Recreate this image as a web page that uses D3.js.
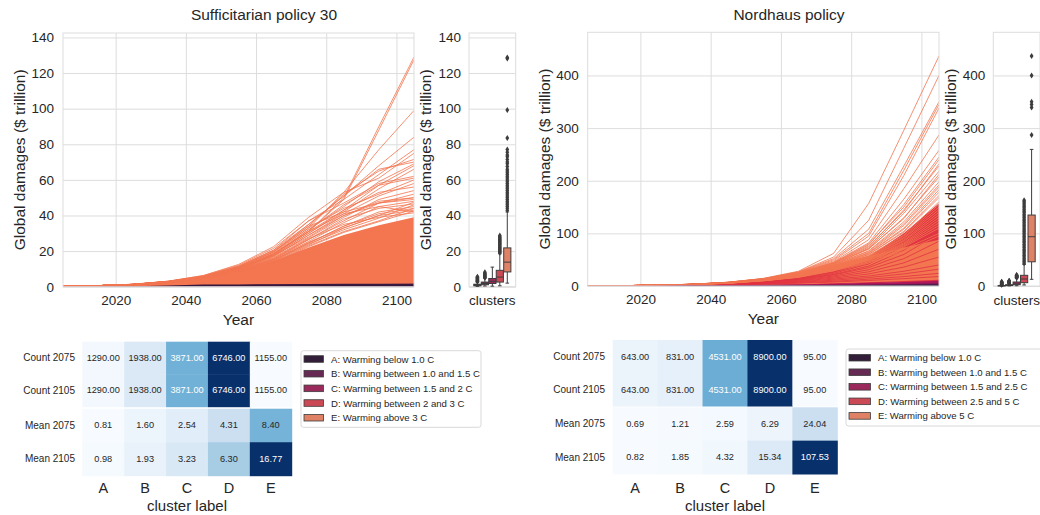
<!DOCTYPE html>
<html>
<head>
<meta charset="utf-8">
<script src="https://cdn.jsdelivr.net/npm/d3@7"></script>
<style>
  body { margin: 0; background: #fff; }
  svg { font-family: "Liberation Sans", Arial, sans-serif; }
  text { fill: #262626; }
</style>
</head>
<body>
<svg id="chart" width="1040" height="515"></svg>
<script>
// ---- data ----
const years = [2005, 2015, 2025, 2035, 2045, 2055, 2065, 2075, 2085, 2095, 2105];
const clusterKeys = ["A", "B", "C", "D", "E"];
const rocket = ["#35193e", "#701f57", "#ad1759", "#e13342", "#f37651"];

// Sufficitarian policy 30: dense bands (low/high) per cluster and a few single runs
const suffBandLow = {
  A: [0, 0, 0, 0, 0, 0, 0, 0, 0, 0, 0],
  B: [0, 0, 0, 0, 0, 0, 0, 0, 0, 0, 0],
  C: [0, 0, 0, 0, 0, 0, 0, 0, 0, 0, 0],
  D: [0, 0, 0, 0, 0, 0, 0, 0, 0, 0, 0],
  E: [0, 0, 0, 0.2, 0.5, 1.0, 1.2, 1.3, 1.4, 1.5, 1.6]
};
const suffBandHigh = {
  A: [0.1, 0.15, 0.3, 0.7, 1.3, 1.3, 1.4, 1.5, 1.6, 1.6, 1.7],
  B: [0.15, 0.3, 0.5, 0.9, 1.5, 2, 2.5, 3, 3.5, 4, 4.5],
  C: [0.2, 0.4, 0.7, 1.2, 2, 3, 4.5, 6, 7.5, 9, 11],
  D: [0.25, 0.5, 0.9, 1.8, 3.5, 6, 9.5, 13, 17, 21, 26],
  E: [0.3, 0.6, 1.2, 2.4, 4.5, 8.5, 14.5, 22, 29, 34.5, 39]
};
const suffLinesE = [
  [0.3, 0.6, 1.3, 2.9, 5.6, 10.5, 18.5, 31, 50, 90, 129],
  [0.3, 0.6, 1.3, 2.9, 5.6, 10.5, 18.5, 31, 49, 88, 127.5],
  [0.3, 0.6, 1.3, 3.0, 5.9, 11, 19.5, 33, 53, 77, 99],
  [0.3, 0.6, 1.3, 3.0, 5.9, 11.5, 20.5, 35, 51, 68, 84],
  [0.3, 0.6, 1.4, 3.1, 6.2, 12, 21.5, 37, 49, 63, 77],
  [0.3, 0.6, 1.4, 3.1, 6.3, 12.5, 22.5, 39, 53, 61, 75],
  [0.3, 0.6, 1.3, 2.9, 5.7, 11, 19.5, 34, 52, 65, 71.5],
  [0.3, 0.6, 1.3, 2.9, 5.7, 11, 19.5, 35, 51, 66, 70],
  [0.3, 0.6, 1.3, 2.8, 5.5, 10.5, 18.5, 32, 45, 59, 69],
  [0.3, 0.6, 1.3, 2.8, 5.4, 10.3, 18, 31, 43, 57, 68],
  [0.3, 0.6, 1.3, 2.8, 5.3, 10, 17.5, 30, 42, 55, 66],
  [0.3, 0.6, 1.3, 2.9, 5.7, 11.5, 20.5, 37, 47, 58, 62],
  [0.3, 0.6, 1.2, 2.7, 5.1, 9.7, 17, 29, 41, 51, 58],
  [0.3, 0.6, 1.2, 2.7, 5.1, 9.8, 17.5, 30, 43, 53, 56],
  [0.3, 0.6, 1.2, 2.6, 5.0, 9.5, 16.5, 27.5, 39, 49, 54],
  [0.3, 0.6, 1.2, 2.6, 4.9, 9.3, 16, 26.5, 37, 47, 52],
  [0.3, 0.6, 1.2, 2.7, 5.2, 10, 17.5, 28, 40, 48, 50],
  [0.3, 0.6, 1.2, 2.6, 4.9, 9.2, 15.5, 25.5, 36, 45, 48],
  [0.3, 0.6, 1.2, 2.6, 4.8, 9.0, 15.5, 26.5, 38, 44, 46.5],
  [0.3, 0.6, 1.2, 2.5, 4.7, 8.8, 15, 24.5, 34, 42, 45],
  [0.3, 0.6, 1.2, 2.5, 4.7, 8.8, 15, 24.5, 34, 41, 44],
  [0.3, 0.6, 1.2, 2.5, 4.6, 8.7, 14.5, 23.5, 33, 40, 43],
  [0.3, 0.6, 1.3, 2.8, 5.4, 10.3, 18, 31, 41, 45, 42],
  [0.3, 0.6, 1.2, 2.6, 4.9, 9.3, 16, 27, 35, 39, 41.5],
  [0.3, 0.6, 1.3, 2.8, 5.5, 10.6, 18.8, 33, 44, 52, 60],
  [0.3, 0.6, 1.3, 2.8, 5.4, 10.2, 18, 32, 46, 57, 61],
  [0.3, 0.6, 1.2, 2.6, 5.0, 9.6, 17, 29, 40, 47, 49],
  [0.3, 0.6, 1.3, 2.9, 5.8, 11.3, 20, 34, 42, 47, 50],
  [0.3, 0.6, 1.2, 2.5, 4.6, 8.6, 14, 23, 31, 37, 44],
  [0.3, 0.6, 1.2, 2.5, 4.6, 8.6, 13.5, 22.5, 30.5, 36.5, 42.5],
  [0.3, 0.6, 1.2, 2.5, 4.7, 8.9, 14.5, 24, 32, 38.5, 46],
  [0.3, 0.6, 1.2, 2.5, 4.7, 9.0, 15, 25, 33, 40, 47.5]
];
const suffLinesD = [];

// Nordhaus policy
const nordBandLow = {
  A: [0, 0, 0, 0, 0, 0, 0, 0, 0, 0, 0],
  B: [0, 0, 0, 0, 0, 0, 0, 0, 0, 0, 0],
  C: [0, 0, 0, 0, 0, 0, 0, 0, 0, 0, 0],
  D: [0, 0, 0.1, 0.3, 0.6, 1.2, 2.2, 3.5, 5, 6.5, 8],
  E: [0, 0.05, 0.15, 0.4, 0.8, 1.5, 3, 5, 7, 9.5, 12]
};
const nordBandHigh = {
  A: [0.03, 0.06, 0.12, 0.25, 0.45, 0.7, 1, 1.4, 1.9, 2.4, 3],
  B: [0.05, 0.1, 0.2, 0.4, 0.7, 1.1, 1.6, 2.3, 3, 4, 5],
  C: [0.1, 0.2, 0.4, 0.8, 1.4, 2.2, 3.2, 4.5, 6, 7.8, 10],
  D: [0.2, 0.5, 1, 2, 4, 8, 16, 30, 56, 100, 157],
  E: [0.3, 0.7, 1.5, 3, 6, 13, 24, 40, 57, 73, 88]
};
const nordLinesE = [
  [0.3, 0.7, 1.6, 3.5, 7.2, 14.5, 28, 62, 157, 296, 437],
  [0.3, 0.7, 1.6, 3.5, 7.1, 14, 27, 55, 125, 262, 400],
  [0.3, 0.7, 1.6, 3.4, 7, 13.8, 26.5, 52, 108, 228, 350],
  [0.3, 0.7, 1.6, 3.4, 7, 13.6, 26, 50, 100, 220, 345],
  [0.3, 0.7, 1.6, 3.4, 6.9, 13.5, 25.5, 48, 95, 210, 338],
  [0.3, 0.7, 1.5, 3.3, 6.8, 13.2, 25, 46, 88, 185, 287],
  [0.3, 0.7, 1.5, 3.3, 6.7, 13, 24.5, 45, 82, 165, 258],
  [0.3, 0.7, 1.5, 3.3, 6.6, 12.8, 24, 44, 78, 155, 245],
  [0.3, 0.7, 1.5, 3.2, 6.5, 12.8, 24, 44, 80, 150, 240],
  [0.3, 0.7, 1.5, 3.2, 6.4, 12.5, 23.5, 43, 76, 142, 232],
  [0.3, 0.7, 1.5, 3.2, 6.5, 12.6, 23.5, 43, 74, 145, 228],
  [0.3, 0.7, 1.5, 3.2, 6.4, 12.4, 23, 42, 72, 138, 218],
  [0.3, 0.7, 1.5, 3.1, 6.2, 12.2, 23, 41, 71, 128, 212],
  [0.3, 0.7, 1.5, 3.2, 6.3, 12.2, 22.5, 41, 70, 130, 207],
  [0.3, 0.7, 1.5, 3.1, 6.2, 12, 22, 40, 67, 122, 198],
  [0.3, 0.7, 1.5, 3.1, 6.1, 12, 22, 40, 66, 118, 192],
  [0.3, 0.7, 1.5, 3.1, 6.1, 11.8, 21.5, 39, 64, 115, 188],
  [0.3, 0.7, 1.5, 3.0, 6.0, 11.7, 21.5, 38, 63, 110, 183],
  [0.3, 0.7, 1.5, 3.1, 6, 11.6, 21, 38, 62, 108, 178],
  [0.3, 0.7, 1.5, 3.0, 5.9, 11.5, 21, 37, 60, 104, 172],
  [0.3, 0.7, 1.5, 3, 5.9, 11.4, 20.5, 37, 60, 102, 168],
  [0.3, 0.7, 1.5, 3, 5.8, 11.2, 20, 36, 58, 97, 160],
  [0.3, 0.7, 1.5, 3.0, 5.8, 11.2, 20, 36, 57, 95, 155],
  [0.3, 0.7, 1.5, 3, 5.7, 11, 19.5, 35, 56, 92, 150],
  [0.3, 0.7, 1.5, 2.9, 5.7, 11, 19.5, 35, 55, 90, 145],
  [0.3, 0.7, 1.5, 3, 5.6, 10.8, 19, 34, 54, 87, 140],
  [0.3, 0.7, 1.5, 2.9, 5.6, 10.8, 19, 34, 53, 85, 135],
  [0.3, 0.7, 1.5, 2.9, 5.5, 10.6, 18.5, 33, 52, 82, 130],
  [0.3, 0.7, 1.5, 2.9, 5.5, 10.5, 18.5, 33, 51, 80, 125],
  [0.3, 0.7, 1.5, 2.9, 5.4, 10.4, 18, 32, 50, 78, 120],
  [0.3, 0.7, 1.5, 2.9, 5.4, 10.3, 18, 32, 49, 76, 115],
  [0.3, 0.7, 1.5, 2.9, 5.3, 10.2, 17.5, 31, 48, 74, 110],
  [0.3, 0.7, 1.5, 2.9, 5.2, 10, 17, 30, 46, 70, 100],
  [0.3, 0.7, 1.5, 2.8, 5.1, 9.8, 16.5, 29, 44, 66, 95]
];
const nordLinesD = [
  [0.2, 0.5, 1, 2, 4, 8, 15, 27, 48, 88, 150],
  [0.2, 0.5, 1, 2, 4, 7.5, 14, 26, 45, 82, 140],
  [0.2, 0.5, 1, 2, 3.8, 7.2, 13.5, 24, 42, 76, 128],
  [0.2, 0.4, 0.9, 1.9, 3.6, 7, 13, 22, 38, 68, 115],
  [0.2, 0.4, 0.9, 1.8, 3.4, 6.5, 12, 21, 35, 60, 100],
  [0.2, 0.4, 0.9, 1.7, 3.2, 6.2, 11, 19, 31, 52, 85],
  [0.2, 0.4, 0.8, 1.6, 3, 5.8, 10, 17, 27, 44, 70],
  [0.2, 0.4, 0.8, 1.5, 2.8, 5.4, 9, 15, 23, 36, 55],
  [0.2, 0.4, 0.8, 1.4, 2.6, 5, 8, 13, 19, 28, 40],
  [0.1, 0.3, 0.7, 1.3, 2.4, 4.5, 7, 11, 16, 23, 32],
  [0.1, 0.3, 0.7, 1.2, 2.2, 4, 6, 9, 13, 18, 24],
  [0.1, 0.3, 0.6, 1.1, 2, 3.5, 5.2, 7.5, 10.5, 14, 18]
];

// box plots of 2105 damages: [lower whisker, q1, median, q3, upper whisker]
const suffBoxStats = [
  [0.2, 0.5, 0.9, 1.4, 2.6],
  [0.4, 1.1, 1.8, 2.6, 4.8],
  [0.3, 1.8, 3.0, 4.6, 11],
  [0.5, 2.6, 5.4, 9.2, 18.5],
  [2, 8.3, 13.8, 21.8, 42]
];
const suffOutliers = [
  [2.8, 3.0, 3.2, 3.5, 3.8, 4.1, 4.4, 4.7, 5.0, 5.3, 5.6],
  [5.0, 5.3, 5.6, 6.0, 6.4, 6.8, 7.2, 7.6, 8.1],
  [],
  [19, 19.5, 20, 20.5, 21, 21.5, 22, 22.5, 23, 23.5, 24, 24.5, 25, 25.5, 26, 26.5, 27, 27.5, 28, 28.7],
  [43, 44, 45, 46, 47, 48, 49, 50, 51, 52, 53, 54, 55, 56, 57, 58, 59, 60, 61, 62, 63, 64, 65, 66,
   67.5, 69, 70, 71.5, 73, 74, 75.5, 77, 83.5, 99.3, 128.2, 128.8]
];
const nordBoxStats = [
  [0, 0.3, 0.6, 1.0, 2.0],
  [0.2, 0.9, 1.5, 2.4, 4.6],
  [0.5, 2.5, 4.0, 7.6, 15],
  [2, 6.3, 13.3, 20.3, 41],
  [12.7, 46, 93.6, 134.8, 259.5]
];
const nordOutliers = [
  [2.5, 3, 3.5, 4, 4.5, 5, 5.5, 6, 6.5, 7, 7.5, 8],
  [5, 5.5, 6, 6.5, 7, 7.5, 8, 8.5, 9, 9.5, 10],
  [15.5, 16, 16.5, 17, 17.5, 18, 18.5, 19, 19.5, 20, 20.5, 21],
  [43, 46, 49, 52, 55, 58, 61, 64, 67, 70, 73, 76, 79, 82, 85, 88, 91, 94, 97, 100, 103, 106, 109,
   112, 115, 118, 121, 124, 127, 130, 133, 136, 139, 142, 145, 148, 151, 154, 157, 160, 163],
  [287, 339, 345, 350, 400, 437]
];

// heatmap tables
const heatCols = ["A", "B", "C", "D", "E"];
const countRows = ["Count 2075", "Count 2105"];
const meanRows = ["Mean 2075", "Mean 2105"];
const suffCounts = [[1290, 1938, 3871, 6746, 1155], [1290, 1938, 3871, 6746, 1155]];
const suffMeans = [[0.81, 1.60, 2.54, 4.31, 8.40], [0.98, 1.93, 3.23, 6.30, 16.77]];
const nordCounts = [[643, 831, 4531, 8900, 95], [643, 831, 4531, 8900, 95]];
const nordMeans = [[0.69, 1.21, 2.59, 6.29, 24.04], [0.82, 1.85, 4.32, 15.34, 107.53]];

const suffLegend = ["A: Warming below 1.0 C", "B: Warming between 1.0 and 1.5 C",
  "C: Warming between 1.5 and 2 C", "D: Warming between 2 and 3 C", "E: Warming above 3 C"];
const nordLegend = ["A: Warming below 1.0 C", "B: Warming between 1.0 and 1.5 C",
  "C: Warming between 1.5 and 2.5 C", "D: Warming between 2.5 and 5 C", "E: Warming above 5 C"];

const xTickYears = [2020, 2040, 2060, 2080, 2100];

// ---- drawing ----
const svg = d3.select("#chart");
const gridColor = "#dddddd";
const boxLine = "#3d3d3d";
const desat = c => { const h = d3.hsl(c); h.s *= 0.75; return h.formatHex(); };
const boxColors = rocket.map(desat);

function styleAxis(g, fs) {
  g.select(".domain").remove();
  g.selectAll(".tick line").attr("stroke", gridColor).attr("stroke-width", 1);
  g.selectAll(".tick text").attr("font-size", fs).attr("fill", "#262626");
}

function drawPanel(p) {
  const x = d3.scaleLinear().domain([2005, 2105]).range([p.left, p.right]);
  const y = d3.scaleLinear().domain([0, p.ymax]).range([p.bottom, p.top]);

  // title
  svg.append("text").attr("x", p.titleX).attr("y", 20).attr("text-anchor", "middle")
    .attr("font-size", 15.5).text(p.title);

  // main axes + grid
  svg.append("g").attr("transform", `translate(${p.left},0)`)
    .call(d3.axisLeft(y).tickValues(p.yticks).tickSize(-(p.right - p.left)).tickPadding(9))
    .call(g => styleAxis(g, 13.5));
  svg.append("g").attr("transform", `translate(0,${p.bottom})`)
    .call(d3.axisBottom(x).tickValues(xTickYears).tickFormat(d3.format("d"))
      .tickSize(-(p.bottom - p.top)).tickPadding(8.5))
    .call(g => styleAxis(g, 13.5));

  const clipId = "clip" + p.id;
  svg.append("clipPath").attr("id", clipId).append("rect")
    .attr("x", p.left).attr("y", p.top).attr("width", p.right - p.left).attr("height", p.bottom - p.top);
  const plot = svg.append("g").attr("clip-path", `url(#${clipId})`);

  const area = (lo, hi) => d3.area().x((d, i) => x(years[i])).y0((d, i) => y(lo[i])).y1(d => y(d))(hi);
  const line = d3.line().x((d, i) => x(years[i])).y(d => y(d));

  const band = k => plot.append("path").attr("d", area(p.bandLow[k], p.bandHigh[k]))
    .attr("fill", rocket[clusterKeys.indexOf(k)]);

  p.under.forEach(band);
  p.lines.forEach(set => {
    plot.append("g").selectAll("path").data(set.data).join("path")
      .attr("d", line).attr("fill", "none")
      .attr("stroke", rocket[clusterKeys.indexOf(set.key)])
      .attr("stroke-width", 0.9).attr("stroke-opacity", 0.9);
  });
  p.over.forEach(band);

  svg.append("rect").attr("x", p.left).attr("y", p.top)
    .attr("width", p.right - p.left).attr("height", p.bottom - p.top)
    .attr("fill", "none").attr("stroke", gridColor);

  svg.append("text").attr("x", (p.left + p.right) / 2).attr("y", p.bottom + 38)
    .attr("text-anchor", "middle").attr("font-size", 15.5).text("Year");
  svg.append("text").attr("transform", `translate(${p.ylabX},${(p.top + p.bottom) / 2}) rotate(-90)`)
    .attr("text-anchor", "middle").attr("dominant-baseline", "central")
    .attr("font-size", 15.5).text("Global damages ($ trillion)");

  // box plot panel
  svg.append("g").attr("transform", `translate(${p.boxLeft},0)`)
    .call(d3.axisLeft(y).tickValues(p.yticks).tickSize(-(p.boxRight - p.boxLeft)).tickPadding(8))
    .call(g => styleAxis(g, 13.5));
  svg.append("rect").attr("x", p.boxLeft).attr("y", p.top)
    .attr("width", p.boxRight - p.boxLeft).attr("height", p.bottom - p.top)
    .attr("fill", "none").attr("stroke", gridColor);
  svg.append("text").attr("transform", `translate(${p.boxYlabX},${(p.top + p.bottom) / 2}) rotate(-90)`)
    .attr("text-anchor", "middle").attr("dominant-baseline", "central")
    .attr("font-size", 15.5).text("Global damages ($ trillion)");

  const wCat = p.boxRight - p.boxLeft;
  const cx = (p.boxLeft + p.boxRight) / 2;
  const bx = d3.scaleBand().domain(clusterKeys).range([cx - 0.4 * wCat, cx + 0.4 * wCat]);
  svg.append("text").attr("x", cx).attr("y", p.bottom + 18.5).attr("text-anchor", "middle")
    .attr("font-size", 13.5).text("clusters");

  const bg = svg.append("g");
  clusterKeys.forEach((k, i) => {
    const [lo, q1, med, q3, hi] = p.boxStats[i];
    const c = bx(k) + bx.bandwidth() / 2;
    const bw = bx.bandwidth() * 0.96;
    const g = bg.append("g").attr("stroke", boxLine).attr("stroke-width", 1);
    g.append("line").attr("x1", c).attr("x2", c).attr("y1", y(q3)).attr("y2", y(hi));
    g.append("line").attr("x1", c).attr("x2", c).attr("y1", y(q1)).attr("y2", y(lo));
    g.append("line").attr("x1", c - bw / 4).attr("x2", c + bw / 4).attr("y1", y(hi)).attr("y2", y(hi));
    g.append("line").attr("x1", c - bw / 4).attr("x2", c + bw / 4).attr("y1", y(lo)).attr("y2", y(lo));
    g.append("rect").attr("x", c - bw / 2).attr("width", bw)
      .attr("y", y(q3)).attr("height", Math.max(0.5, y(q1) - y(q3))).attr("fill", boxColors[i]);
    g.append("line").attr("x1", c - bw / 2).attr("x2", c + bw / 2).attr("y1", y(med)).attr("y2", y(med));
    g.selectAll("path").data(p.outliers[i]).join("path")
      .attr("d", "M0,-3 L1.9,0 L0,3 L-1.9,0 Z")
      .attr("transform", d => `translate(${c},${y(d)})`)
      .attr("fill", boxLine).attr("stroke", "none");
  });
}

function drawHeat(h) {
  const cx = d3.scaleBand().domain(heatCols).range([h.x0, h.x1]);
  const blocks = [
    { rows: countRows, vals: h.counts, y0: h.countY[0], y1: h.countY[1] },
    { rows: meanRows, vals: h.means, y0: h.meanY[0], y1: h.meanY[1] }
  ];
  const fmt = d3.format(".2f");
  blocks.forEach(b => {
    const ry = d3.scaleBand().domain(b.rows).range([b.y0, b.y1]);
    const flat = b.vals.flat();
    const [mn, mx] = d3.extent(flat);
    const color = d3.scaleSequential(d3.interpolateBlues).domain([mn, mx]);
    const cells = [];
    b.rows.forEach((r, ri) => heatCols.forEach((c, ci) => cells.push({ r, c, v: b.vals[ri][ci] })));
    const g = svg.append("g");
    g.selectAll("rect").data(cells).join("rect")
      .attr("x", d => cx(d.c)).attr("y", d => ry(d.r))
      .attr("width", cx.bandwidth() + 0.5).attr("height", ry.bandwidth() + 0.5)
      .attr("fill", d => color(d.v));
    g.selectAll("text.v").data(cells).join("text").attr("class", "v")
      .attr("x", d => cx(d.c) + cx.bandwidth() / 2).attr("y", d => ry(d.r) + ry.bandwidth() / 2)
      .attr("text-anchor", "middle").attr("dominant-baseline", "central").attr("font-size", 9.2)
      .style("fill", d => (d.v - mn) / (mx - mn) > 0.48 ? "#ffffff" : "#262626")
      .text(d => fmt(d.v));
    g.selectAll("text.r").data(b.rows).join("text").attr("class", "r")
      .attr("x", h.rowLabX).attr("y", d => ry(d) + ry.bandwidth() / 2)
      .attr("text-anchor", "end").attr("dominant-baseline", "central").attr("font-size", 10)
      .text(d => d);
  });
  svg.append("g").selectAll("text").data(heatCols).join("text")
    .attr("x", d => cx(d) + cx.bandwidth() / 2).attr("y", 493)
    .attr("text-anchor", "middle").attr("font-size", 14.5).text(d => d);
  svg.append("text").attr("x", (h.x0 + h.x1) / 2).attr("y", 511)
    .attr("text-anchor", "middle").attr("font-size", 15).text("cluster label");

  // legend
  const lg = svg.append("g");
  lg.append("rect").attr("x", h.leg.x).attr("y", h.leg.y).attr("width", h.leg.w).attr("height", h.leg.h)
    .attr("rx", 2.5).attr("fill", "#fff").attr("stroke", "#d5d5d5").attr("stroke-width", 0.9);
  const ly = d3.scalePoint().domain(h.labels).range(h.leg.rows);
  lg.selectAll("rect.sw").data(h.labels).join("rect").attr("class", "sw")
    .attr("x", h.leg.swX).attr("y", d => ly(d) - 3.3).attr("width", h.leg.swW).attr("height", 6.6)
    .attr("fill", (d, i) => boxColors[i]).attr("stroke", boxLine).attr("stroke-width", 0.8);
  lg.selectAll("text").data(h.labels).join("text")
    .attr("x", h.leg.txtX).attr("y", d => ly(d)).attr("dominant-baseline", "central")
    .attr("font-size", 9.6).text(d => d);
}

drawPanel({
  id: "s", title: "Sufficitarian policy 30", titleX: 264,
  left: 63, right: 414, top: 33, bottom: 286.7, ymax: 142.5,
  yticks: [0, 20, 40, 60, 80, 100, 120, 140], ylabX: 19,
  boxLeft: 469, boxRight: 515.7, boxYlabX: 425,
  bandLow: suffBandLow, bandHigh: suffBandHigh,
  under: ["D", "C", "B", "E"],
  lines: [{ key: "D", data: suffLinesD }, { key: "E", data: suffLinesE }],
  over: ["A"],
  boxStats: suffBoxStats, outliers: suffOutliers
});
drawPanel({
  id: "n", title: "Nordhaus policy", titleX: 789,
  left: 587.7, right: 939, top: 32.3, bottom: 286, ymax: 482,
  yticks: [0, 100, 200, 300, 400], ylabX: 544,
  boxLeft: 993.3, boxRight: 1040, boxYlabX: 950,
  bandLow: nordBandLow, bandHigh: nordBandHigh,
  under: ["D", "E"],
  lines: [{ key: "D", data: nordLinesD }, { key: "E", data: nordLinesE }],
  over: ["C", "B", "A"],
  boxStats: nordBoxStats, outliers: nordOutliers
});

drawHeat({
  x0: 82.3, x1: 291.7, countY: [341.7, 406.7], meanY: [408.7, 475.7], rowLabX: 75,
  counts: suffCounts, means: suffMeans, labels: suffLegend,
  leg: { x: 301, y: 350.7, w: 180, h: 76.6, swX: 304, swW: 19.5, txtX: 331, rows: [359, 417.7] }
});
drawHeat({
  x0: 612.7, x1: 837.3, countY: [340, 406], meanY: [407.3, 474], rowLabX: 605,
  counts: nordCounts, means: nordMeans, labels: nordLegend,
  leg: { x: 846, y: 349, w: 200, h: 77, swX: 849, swW: 21.5, txtX: 878, rows: [357.7, 415.9] }
});
</script>
</body>
</html>
